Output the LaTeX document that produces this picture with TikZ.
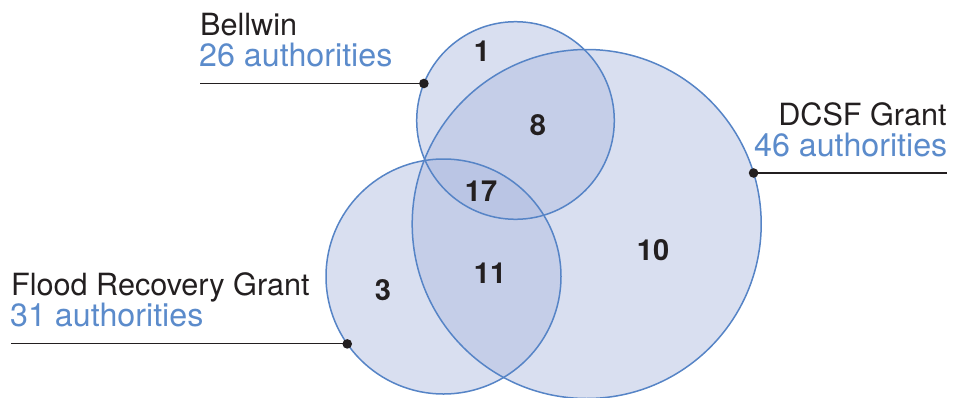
\documentclass[tikz,border=0pt]{standalone}
\usepackage{fontspec}
\setmainfont{TeX Gyre Heros}
\definecolor{vennfill}{RGB}{174,187,223}
\definecolor{vennline}{RGB}{86,132,198}
\definecolor{labelblue}{RGB}{91,139,203}
\definecolor{ink}{RGB}{35,31,32}
\tikzset{
  venn/.style={circle, inner sep=0pt, outer sep=0pt},
  vennfillst/.style={fill=vennfill, fill opacity=0.47},
  vennedge/.style={draw=vennline, line width=1.5pt},
  num/.style={font=\fontsize{29}{30}\selectfont\bfseries, text=ink, inner sep=0pt},
  lbl/.style={font=\fontsize{30.6}{32}\selectfont, text=ink, inner sep=0pt},
  lblb/.style={font=\fontsize{32.2}{33}\selectfont, text=labelblue, inner sep=0pt},
  leader/.style={draw=ink, line width=1.1pt},
  dot/.style={fill=ink}
}
\begin{document}
\begin{tikzpicture}[x=1pt,y=-1pt]
\useasboundingbox (0,0) rectangle (954,397);
% circles (fills)
\node[venn, minimum size=349pt] (dcsf) at (586.7,224) {};
\node[venn, minimum size=197.6pt] (bell) at (515.5,120.5) {};
\node[venn, minimum size=235pt] (flood) at (443.5,276.5) {};
\fill[vennfillst] (dcsf.center) circle[radius=174.5];
\fill[vennfillst] (bell.center) circle[radius=98.8];
\fill[vennfillst] (flood.center) circle[radius=117.5];
% outlines
\draw[vennedge] (dcsf.center) circle[radius=174.5];
\draw[vennedge] (bell.center) circle[radius=98.8];
\draw[vennedge] (flood.center) circle[radius=117.5];
% numbers
\node[num] (n1) at (482,51) {1};
\node[num] (n8) at (538,125) {8};
\node[num] (n17) at (481,191) {17};
\node[num] (n11) at (490,273) {11};
\node[num] (n10) at (653,250) {10};
\node[num] (n3) at (383,290) {3};
% labels
\node[lbl, anchor=base west] (bellname) at (200,35) {Bellwin};
\node[lblb, anchor=base west] (bellcount) at (199,66.7) {26 authorities};
\node[lbl, anchor=base east] (dcsfname) at (946.7,125) {DCSF Grant};
\node[lblb, anchor=base east] (dcsfcount) at (947.5,156.7) {46 authorities};
\node[lbl, anchor=base west] (floodname) at (11,295) {Flood Recovery Grant};
\node[lblb, anchor=base west] (floodcount) at (10,326.7) {31 authorities};
% leader lines
\coordinate (bellend) at (200,0);
\coordinate (dcsfend) at (946.7,0);
\coordinate (floodend) at (11,0);
\draw[leader] (bell.158) -- (bell.158 -| bellend);
\draw[leader] (dcsf.17) -- (dcsf.17 -| dcsfend);
\draw[leader] (flood.215) -- (flood.215 -| floodend);
\fill[dot] (bell.158) circle[radius=4.8];
\fill[dot] (dcsf.17) circle[radius=4.8];
\fill[dot] (flood.215) circle[radius=4.8];
\end{tikzpicture}
\end{document}
